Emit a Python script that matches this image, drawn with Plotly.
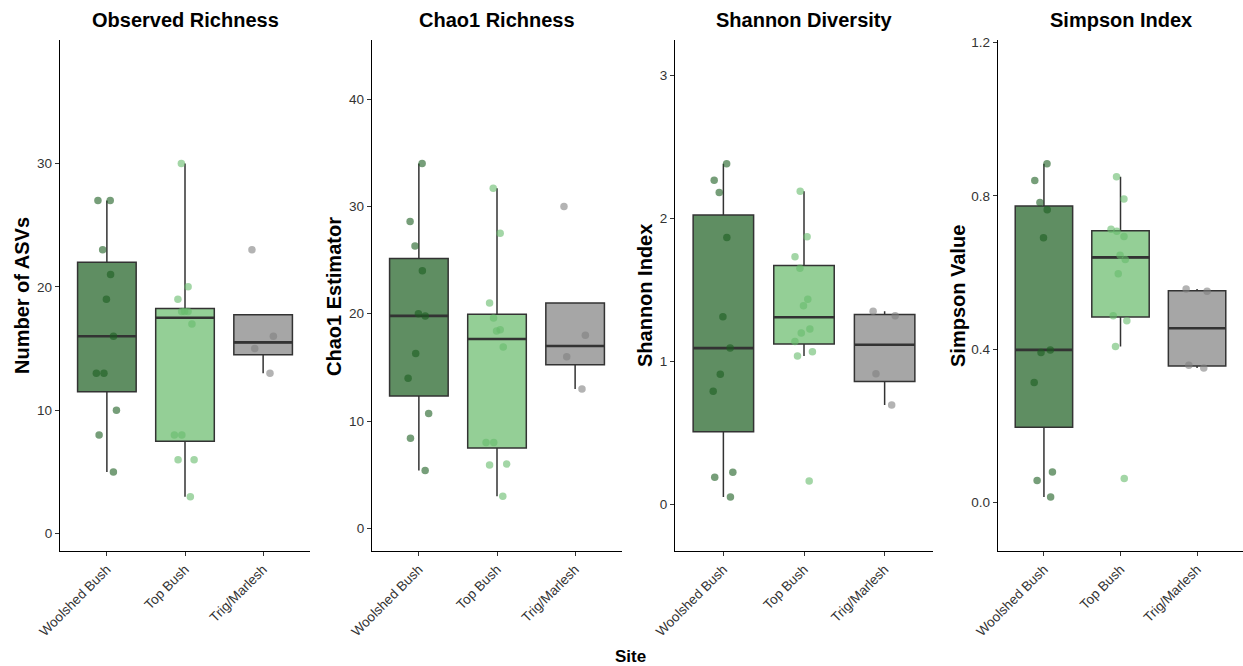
import numpy as np
import plotly.graph_objects as go

# ---- data -------------------------------------------------------------
sites = ["Woolshed Bush", "Top Bush", "Trig/Marlesh"]

observed_woolshed = [5, 8, 10, 13, 13, 16, 19, 21, 23, 27, 27]
observed_top = [3, 6, 6, 8, 8, 17, 18, 18, 18, 19, 20, 30]
observed_trig = [13, 15, 16, 23]

chao1_woolshed = [5.4, 8.4, 10.7, 14.0, 16.3, 19.8, 20.0, 24.0, 26.3, 28.6, 34.0]
chao1_top = [3.0, 5.9, 6.0, 8.0, 8.0, 16.9, 18.4, 18.5, 19.6, 21.0, 27.5, 31.7]
chao1_trig = [13.0, 16.0, 18.0, 30.0]

shannon_woolshed = [0.053, 0.191, 0.226, 0.794, 0.912, 1.095, 1.314, 1.869, 2.183, 2.269, 2.385]
shannon_top = [0.166, 1.040, 1.070, 1.141, 1.201, 1.229, 1.392, 1.437, 1.653, 1.734, 1.874, 2.193]
shannon_trig = [0.698, 0.915, 1.322, 1.352]

simpson_woolshed = [0.014, 0.057, 0.079, 0.313, 0.391, 0.398, 0.691, 0.764, 0.783, 0.840, 0.884]
simpson_top = [0.062, 0.407, 0.474, 0.487, 0.597, 0.634, 0.645, 0.694, 0.708, 0.713, 0.792, 0.850]
simpson_trig = [0.351, 0.358, 0.551, 0.557]

panel_titles = ["Observed Richness", "Chao1 Richness", "Shannon Diversity", "Simpson Index"]
y_titles = ["Number of ASVs", "Chao1 Estimator", "Shannon Index", "Simpson Value"]
y_ticks = [[0, 10, 20, 30], [0, 10, 20, 30, 40], [0, 1, 2, 3], [0.0, 0.4, 0.8, 1.2]]
y_ranges = [[-1.4, 40.0], [-2.1, 45.5], [-0.324, 3.25], [-0.127, 1.207]]
y_formats = ["d", "d", "d", ".1f"]

panels = [
    [observed_woolshed, observed_top, observed_trig],
    [chao1_woolshed, chao1_top, chao1_trig],
    [shannon_woolshed, shannon_top, shannon_trig],
    [simpson_woolshed, simpson_top, simpson_trig],
]

# ---- style ------------------------------------------------------------
base_rgb = ["27,94,32", "102,187,106", "128,128,128"]
box_alpha = 0.7
pt_alpha = 0.6
font_family = "Liberation Sans, Arial, sans-serif"
outline = "#333333"
tick_font = dict(size=13.5, color="#333333", family=font_family)

W, H = 1243, 666
x_px = [(60, 310), (372, 622), (675, 933), (998, 1243)]
y_dom = [115 / H, 626 / H]
ytitle_px = [22, 334, 645, 958]


def box_stats(vals):
    v = np.sort(np.asarray(vals, dtype=float))
    q1, med, q3 = np.percentile(v, [25, 50, 75])
    iqr = q3 - q1
    lo = v[v >= q1 - 1.5 * iqr].min()
    hi = v[v <= q3 + 1.5 * iqr].max()
    return q1, med, q3, min(lo, q1), max(hi, q3)


fig = go.Figure()
layout = dict(
    width=W, height=H,
    margin=dict(l=0, r=0, t=0, b=0, autoexpand=False),
    paper_bgcolor="white", plot_bgcolor="white",
    showlegend=False,
    font=dict(family=font_family, color="#000000"),
    annotations=[],
)

for p, groups in enumerate(panels):
    xa = "x" if p == 0 else f"x{p + 1}"
    ya = "y" if p == 0 else f"y{p + 1}"
    for i, vals in enumerate(groups):
        q1, med, q3, lo, hi = box_stats(vals)
        fill = f"rgba({base_rgb[i]},{box_alpha})"
        # box + whiskers
        fig.add_trace(go.Box(
            x=[i], q1=[q1], median=[med], q3=[q3],
            lowerfence=[lo], upperfence=[hi],
            width=0.75, whiskerwidth=0, boxpoints=False,
            fillcolor=fill, line=dict(color=outline, width=1.5),
            xaxis=xa, yaxis=ya, hoverinfo="skip",
        ))
        # thicker median bar
        fig.add_trace(go.Box(
            x=[i], q1=[med], median=[med], q3=[med],
            lowerfence=[med], upperfence=[med],
            width=0.75, whiskerwidth=0, boxpoints=False,
            fillcolor="rgba(0,0,0,0)", line=dict(color=outline, width=2.6),
            xaxis=xa, yaxis=ya, hoverinfo="skip",
        ))
        # jittered samples
        fig.add_trace(go.Box(
            x=[i] * len(vals), y=vals,
            width=0.75, boxpoints="all", jitter=0.45, pointpos=0,
            fillcolor="rgba(0,0,0,0)",
            line=dict(color="rgba(0,0,0,0)", width=0),
            marker=dict(color=f"rgba({base_rgb[i]},{pt_alpha})", size=7.5,
                        line=dict(width=0)),
            xaxis=xa, yaxis=ya, hoveron="points",
        ))

    x0, x1 = x_px[p]
    xkey = "xaxis" if p == 0 else f"xaxis{p + 1}"
    ykey = "yaxis" if p == 0 else f"yaxis{p + 1}"
    layout[xkey] = dict(
        domain=[x0 / W, x1 / W], anchor=ya, range=[-0.6, 2.6],
        tickvals=[0, 1, 2], ticktext=sites, tickangle=-45,
        showline=True, linecolor="#000000", linewidth=1.3,
        ticks="outside", ticklen=4, tickcolor="#333333", tickwidth=1,
        showgrid=False, zeroline=False, automargin=False,
        tickfont=tick_font,
    )
    layout[ykey] = dict(
        domain=y_dom, anchor=xa, range=y_ranges[p],
        tickvals=y_ticks[p], tickformat=y_formats[p],
        showline=True, linecolor="#000000", linewidth=1.3,
        ticks="outside", ticklen=4, tickcolor="#333333", tickwidth=1,
        showgrid=False, zeroline=False, automargin=False,
        tickfont=tick_font,
    )
    # panel title
    layout["annotations"].append(dict(
        text=f"<b>{panel_titles[p]}</b>", x=(x0 + x1) / 2 / W, y=1 - 20 / H,
        xref="paper", yref="paper", xanchor="center", yanchor="middle",
        showarrow=False, font=dict(size=20, color="#000000", family=font_family),
    ))
    # y-axis title
    layout["annotations"].append(dict(
        text=f"<b>{y_titles[p]}</b>", x=ytitle_px[p] / W, y=1 - 296 / H,
        xref="paper", yref="paper", xanchor="center", yanchor="middle",
        textangle=-90, showarrow=False,
        font=dict(size=20, color="#000000", family=font_family),
    ))

layout["annotations"].append(dict(
    text="<b>Site</b>", x=630 / W, y=1 - 656 / H,
    xref="paper", yref="paper", xanchor="center", yanchor="middle",
    showarrow=False, font=dict(size=17, color="#000000", family=font_family),
))

fig.update_layout(**layout)
fig.write_html("out.html")
